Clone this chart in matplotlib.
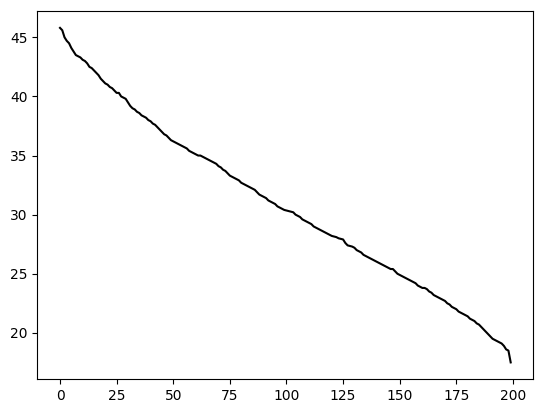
import matplotlib
matplotlib.use("Agg")
import matplotlib.pyplot as plt
import numpy as np

values = [
    45.8, 45.6, 45.0, 44.7, 44.5, 44.1, 43.8, 43.5, 43.4, 43.3,
    43.1, 43.0, 42.8, 42.5, 42.4, 42.2, 42.0, 41.8, 41.5, 41.3,
    41.1, 41.0, 40.8, 40.7, 40.5, 40.3, 40.3, 40.0, 39.9, 39.8,
    39.5, 39.2, 39.0, 38.9, 38.7, 38.6, 38.4, 38.3, 38.2, 38.0,
    37.9, 37.7, 37.6, 37.4, 37.2, 37.0, 36.8, 36.7, 36.5, 36.3,
    36.2, 36.1, 36.0, 35.9, 35.8, 35.7, 35.6, 35.4, 35.3, 35.2,
    35.1, 35.0, 35.0, 34.9, 34.8, 34.7, 34.6, 34.5, 34.4, 34.3,
    34.1, 34.0, 33.8, 33.7, 33.5, 33.3, 33.2, 33.1, 33.0, 32.9,
    32.7, 32.6, 32.5, 32.4, 32.3, 32.2, 32.1, 31.9, 31.7, 31.6,
    31.5, 31.4, 31.2, 31.1, 31.0, 30.9, 30.7, 30.6, 30.5, 30.4,
    30.35, 30.3, 30.25, 30.2, 30.0, 29.9, 29.8, 29.6, 29.5, 29.4,
    29.3, 29.2, 29.0, 28.9, 28.8, 28.7, 28.6, 28.5, 28.4, 28.3,
    28.2, 28.15, 28.1, 28.0, 27.95, 27.9, 27.6, 27.4, 27.35, 27.3,
    27.2, 27.0, 26.9, 26.8, 26.6, 26.5, 26.4, 26.3, 26.2, 26.1,
    26.0, 25.9, 25.8, 25.7, 25.6, 25.5, 25.4, 25.4, 25.2, 25.0,
    24.9, 24.8, 24.7, 24.6, 24.5, 24.4, 24.3, 24.2, 24.0, 23.9,
    23.8, 23.8, 23.7, 23.5, 23.4, 23.2, 23.1, 23.0, 22.9, 22.8,
    22.7, 22.5, 22.4, 22.2, 22.1, 22.0, 21.8, 21.7, 21.6, 21.5,
    21.4, 21.2, 21.1, 21.0, 20.8, 20.7, 20.5, 20.3, 20.1, 19.9,
    19.7, 19.5, 19.4, 19.3, 19.2, 19.1, 18.9, 18.6, 18.5, 17.5,
]

fig = plt.figure(figsize=(5.43, 4.13), dpi=100)
ax = fig.add_axes([0.069, 0.082, 0.913, 0.891])
ax.plot(np.arange(len(values)), values, color="black")
fig.savefig("out.png", dpi=100)
